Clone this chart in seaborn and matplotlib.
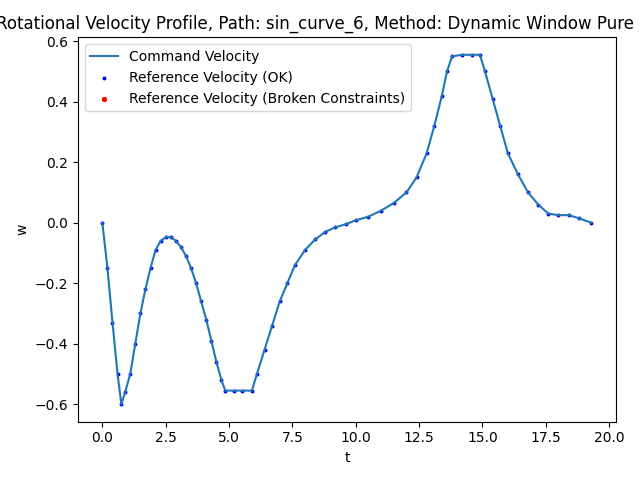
import numpy as np
import pandas as pd
import matplotlib
matplotlib.use("Agg")
import matplotlib.pyplot as plt
import seaborn as sns

t = [0, 0.2, 0.4, 0.6, 0.75, 0.9, 1.1, 1.3, 1.5, 1.7, 1.9, 2.1, 2.3, 2.5, 2.7, 2.9,
     3.1, 3.3, 3.5, 3.7, 3.9, 4.1, 4.3, 4.5, 4.7, 4.85, 5.2, 5.5, 5.9, 6.1, 6.4, 6.7,
     7.0, 7.3, 7.6, 8.0, 8.4, 8.8, 9.2, 9.6, 10.0, 10.5, 11.0, 11.5, 12.0, 12.4, 12.8,
     13.1, 13.4, 13.6, 13.8, 14.2, 14.6, 14.9, 15.1, 15.4, 15.7, 16.0, 16.4, 16.8,
     17.2, 17.6, 18.0, 18.4, 18.8, 19.3]
w = [0, -0.15, -0.33, -0.5, -0.6, -0.56, -0.5, -0.4, -0.3, -0.22, -0.15, -0.09, -0.06,
     -0.048, -0.047, -0.06, -0.08, -0.11, -0.15, -0.2, -0.26, -0.32, -0.39, -0.46, -0.52,
     -0.555, -0.555, -0.555, -0.555, -0.5, -0.42, -0.34, -0.26, -0.2, -0.14, -0.09,
     -0.055, -0.03, -0.015, -0.005, 0.008, 0.02, 0.04, 0.065, 0.1, 0.15, 0.23, 0.32,
     0.42, 0.5, 0.55, 0.555, 0.555, 0.555, 0.5, 0.41, 0.32, 0.23, 0.16, 0.1, 0.06,
     0.03, 0.025, 0.025, 0.015, 0.0]

df = pd.DataFrame({"t": t, "w": w})

fig, ax = plt.subplots(figsize=(6.4, 4.8), dpi=100)
sns.lineplot(data=df, x="t", y="w", ax=ax, color="tab:blue", label="Command Velocity")
sns.scatterplot(data=df, x="t", y="w", ax=ax, color="blue", s=8, linewidth=0,
                label="Reference Velocity (OK)")
ax.scatter([], [], color="red", s=8, label="Reference Velocity (Broken Constraints)")
ax.set_xlabel("t")
ax.set_ylabel("w")
ax.set_title("Rotational Velocity Profile, Path: sin_curve_6, Method: Dynamic Window Pure Pursuit")
ax.legend(loc="upper left")
fig.tight_layout()
fig.savefig("out.png")
